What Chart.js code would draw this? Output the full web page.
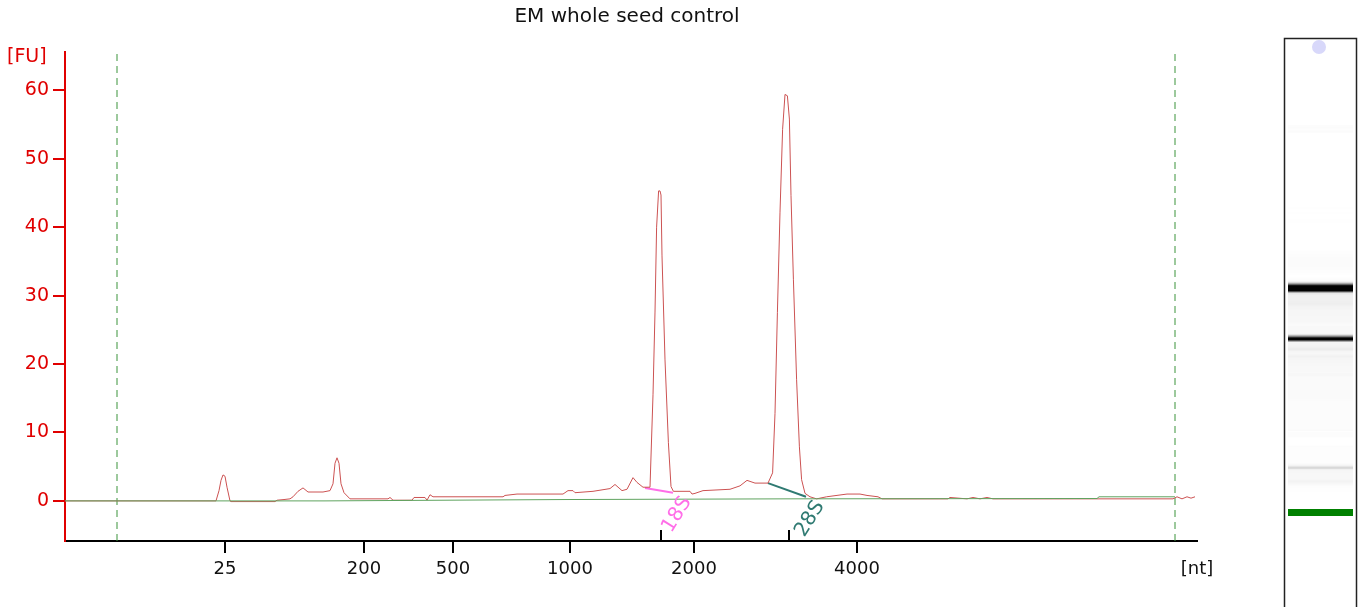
<!DOCTYPE html>
<html>
<head>
<meta charset="utf-8">
<title>EM whole seed control</title>
<script src="https://cdn.jsdelivr.net/npm/chart.js@4.4.1/dist/chart.umd.min.js"></script>
<style>
  html, body { margin: 0; padding: 0; background: #fff; }
  #wrap { position: relative; width: 1361px; height: 607px; }
</style>
</head>
<body>
<div id="wrap"><canvas id="chart"></canvas></div>
<script>
// electropherogram: migration time (s) vs fluorescence (FU)
const traceTime = [17.00, 24.55, 24.70, 24.80, 24.90, 25.00, 25.10, 25.25, 25.30, 27.50, 27.60, 27.95, 28.25, 28.40, 28.65, 28.90, 29.15, 29.90, 30.25, 30.40, 30.50, 30.60, 30.70, 30.80, 30.95, 31.25, 33.15, 33.25, 33.40, 34.35, 34.45, 35.00, 35.10, 35.25, 35.40, 38.90, 39.00, 39.60, 41.90, 42.15, 42.40, 42.50, 43.40, 44.25, 44.50, 44.85, 45.10, 45.40, 45.60, 45.90, 46.25, 46.40, 46.50, 46.58, 46.68, 46.75, 46.80, 46.85, 47.00, 47.17, 47.30, 47.42, 48.25, 48.35, 48.50, 48.90, 50.25, 50.75, 51.10, 51.50, 52.15, 52.38, 52.50, 52.62, 52.75, 52.88, 53.00, 53.12, 53.22, 53.30, 53.42, 53.58, 53.72, 53.83, 54.00, 54.25, 54.58, 55.08, 56.10, 56.75, 57.10, 57.65, 57.85, 61.15, 61.25, 62.10, 62.40, 62.75, 63.10, 63.40, 72.40, 72.60, 72.85, 73.10, 73.30, 73.50];
const traceFU   = [0.0, 0.0, 1.5, 3.0, 3.8, 3.6, 2.0, 0.0, -0.1, -0.1, 0.1, 0.2, 0.3, 0.6, 1.4, 1.9, 1.3, 1.3, 1.5, 2.5, 5.5, 6.3, 5.5, 2.5, 1.2, 0.3, 0.3, 0.5, 0.1, 0.1, 0.5, 0.5, 0.1, 0.9, 0.6, 0.6, 0.8, 1.0, 1.0, 1.5, 1.5, 1.2, 1.4, 1.8, 2.4, 1.5, 1.7, 3.4, 2.7, 2.0, 2.0, 15.5, 27.6, 40.0, 45.3, 45.3, 44.7, 35.8, 20.6, 8.5, 2.1, 1.4, 1.4, 1.0, 1.1, 1.5, 1.7, 2.2, 3.0, 2.6, 2.6, 4.1, 12.8, 27.5, 42.2, 54.3, 59.4, 59.2, 55.8, 44.6, 32.4, 17.7, 7.9, 3.1, 1.1, 0.6, 0.3, 0.6, 1.0, 1.0, 0.8, 0.6, 0.3, 0.3, 0.5, 0.3, 0.5, 0.3, 0.5, 0.3, 0.3, 0.6, 0.3, 0.6, 0.4, 0.6];

// fitted baseline
const baseTime = [17.0, 30.0, 42.0, 53.0, 68.6, 68.7, 72.5];
const baseFU   = [0.0, 0.0, 0.2, 0.3, 0.35, 0.6, 0.6];

// size ladder ticks
const tickTime   = [25.0, 31.95, 36.4, 42.25, 48.45, 56.6, 73.6];
const tickLabels = ['25', '200', '500', '1000', '2000', '4000', '[nt]'];
const yTicks     = [0, 10, 20, 30, 40, 50, 60];

// integration window (dashed lines)
const windowTime = [19.6, 72.5];

// rRNA peaks
const peakNames     = ['18S', '28S'];
const peakTime      = [46.8, 53.2];
const peakStartTime = [46.0, 52.15];
const peakStartFU   = [1.9, 2.6];
const peakEndTime   = [47.4, 54.05];
const peakEndFU     = [1.2, 0.6];
const peakColors    = ['#ff6ee8', '#2f7a72'];

const markerTime = 25.0; // lower marker

const X_MIN = 17, X_MAX = 73.6, Y_MIN = -5.86, Y_MAX = 65.6;

function interp(xs, ys, x) {
    if (x <= xs[0] || x >= xs[xs.length - 1]) return 0;
    for (let i = 1; i < xs.length; i++) {
        if (x <= xs[i]) {
            const f = (x - xs[i - 1]) / (xs[i] - xs[i - 1]);
            return ys[i - 1] + f * (ys[i] - ys[i - 1]);
        }
    }
    return 0;
}

const datasets = [
    {
        label: 'baseline',
        data: baseTime.map((t, i) => ({ x: t, y: baseFU[i] })),
        borderColor: '#5fa35f', borderWidth: 1, pointRadius: 0
    },
    {
        label: 'sample',
        data: traceTime.map((t, i) => ({ x: t, y: traceFU[i] })),
        borderColor: '#cc5252', borderWidth: 1, pointRadius: 0
    }
];
windowTime.forEach(t => {
    datasets.push({
        label: 'window',
        data: [{ x: t, y: Y_MIN }, { x: t, y: Y_MAX }],
        borderColor: '#3a933a', borderWidth: 1, borderDash: [7, 5], pointRadius: 0
    });
});
peakNames.forEach((n, i) => {
    datasets.push({
        label: n,
        data: [{ x: peakStartTime[i], y: peakStartFU[i] }, { x: peakEndTime[i], y: peakEndFU[i] }],
        borderColor: peakColors[i], borderWidth: 2, pointRadius: 0
    });
});

// title, unit labels, peak markers and gel lane
const decorPlugin = {
    id: 'decor',
    afterDraw(chart) {
        const { ctx, chartArea, scales } = chart;
        const xs = scales.x, ys = scales.y;
        ctx.save();

        ctx.fillStyle = '#111';
        ctx.font = '20px "DejaVu Sans"';
        ctx.textAlign = 'center';
        ctx.textBaseline = 'middle';
        ctx.fillText('EM whole seed control', (chartArea.left + chartArea.right) / 2 - 4, 17);

        ctx.fillStyle = '#e00000';
        ctx.font = '19px "DejaVu Sans"';
        ctx.textAlign = 'left';
        ctx.fillText('[FU]', 7, 57);

        // peak ticks above the x axis
        ctx.strokeStyle = '#000';
        ctx.lineWidth = 2;
        peakTime.forEach(t => {
            const px = Math.round(xs.getPixelForValue(t));
            ctx.beginPath();
            ctx.moveTo(px, chartArea.bottom);
            ctx.lineTo(px, chartArea.bottom - 11);
            ctx.stroke();
        });

        // peak names
        ctx.font = '20px "DejaVu Sans"';
        ctx.textAlign = 'center';
        peakNames.forEach((n, i) => {
            const px = xs.getPixelForValue(peakEndTime[i]);
            const py = ys.getPixelForValue(peakEndFU[i]);
            ctx.save();
            ctx.translate(px + 4, py + 22);
            ctx.rotate(-58 * Math.PI / 180);
            ctx.fillStyle = peakColors[i];
            ctx.fillText(n, 0, 0);
            ctx.restore();
        });

        // gel lane rendered from the trace
        const laneL = 1284, laneR = 1356, laneT = 38;
        const markerY = 512, pxPerSec = 8;
        ctx.fillStyle = '#fff';
        ctx.fillRect(laneL, laneT, laneR - laneL, chart.height - laneT + 2);
        for (let py = laneT + 1; py < chart.height; py++) {
            const s = markerTime + (markerY - py) / pxPerSec;
            let color;
            if (Math.abs(s - markerTime) < 0.4) {
                color = '#008000';
            } else {
                const v = interp(traceTime, traceFU, s) - interp(baseTime, baseFU, s);
                const g = Math.round(255 * (1 - Math.max(0, Math.min(1, v / 40))));
                color = `rgb(${g},${g},${g})`;
            }
            ctx.fillStyle = color;
            ctx.fillRect(laneL + 4, py, laneR - laneL - 7, 1);
        }
        ctx.fillStyle = '#d8d8fa';
        ctx.beginPath();
        ctx.arc(1319, 47, 7, 0, Math.PI * 2);
        ctx.fill();
        ctx.strokeStyle = '#222';
        ctx.lineWidth = 1.5;
        ctx.strokeRect(laneL + 0.5, laneT + 0.5, laneR - laneL, chart.height);

        ctx.restore();
    }
};

new Chart(document.getElementById('chart'), {
    type: 'line',
    data: { datasets },
    options: {
        responsive: true,
        maintainAspectRatio: false,
        animation: false,
        layout: { padding: { top: 52, right: 164, left: 0, bottom: 0 } },
        plugins: {
            legend: { display: false },
            title: { display: false },
            tooltip: { enabled: false }
        },
        scales: {
            x: {
                type: 'linear',
                min: X_MIN, max: X_MAX,
                afterBuildTicks: axis => { axis.ticks = tickTime.map(v => ({ value: v })); },
                afterFit: axis => { axis.height = 66; },
                ticks: {
                    autoSkip: false, maxRotation: 0, padding: 6,
                    color: '#111',
                    font: { family: 'DejaVu Sans', size: 18 },
                    callback: (v, i) => tickLabels[i]
                },
                grid: {
                    drawOnChartArea: false, drawTicks: true, tickLength: 12, lineWidth: 2,
                    tickColor: tickLabels.map(l => l === '[nt]' ? 'rgba(0,0,0,0)' : '#000')
                },
                border: { display: true, color: '#000', width: 2 }
            },
            y: {
                type: 'linear',
                min: Y_MIN, max: Y_MAX,
                afterBuildTicks: axis => { axis.ticks = yTicks.map(v => ({ value: v })); },
                afterFit: axis => { axis.width = 65; },
                ticks: {
                    padding: 4,
                    color: '#e00000',
                    font: { family: 'DejaVu Sans', size: 19 }
                },
                grid: {
                    drawOnChartArea: false, drawTicks: true, tickLength: 12, lineWidth: 2,
                    tickColor: '#e00000'
                },
                border: { display: true, color: '#e00000', width: 2 }
            }
        }
    },
    plugins: [decorPlugin]
});
</script>
</body>
</html>
